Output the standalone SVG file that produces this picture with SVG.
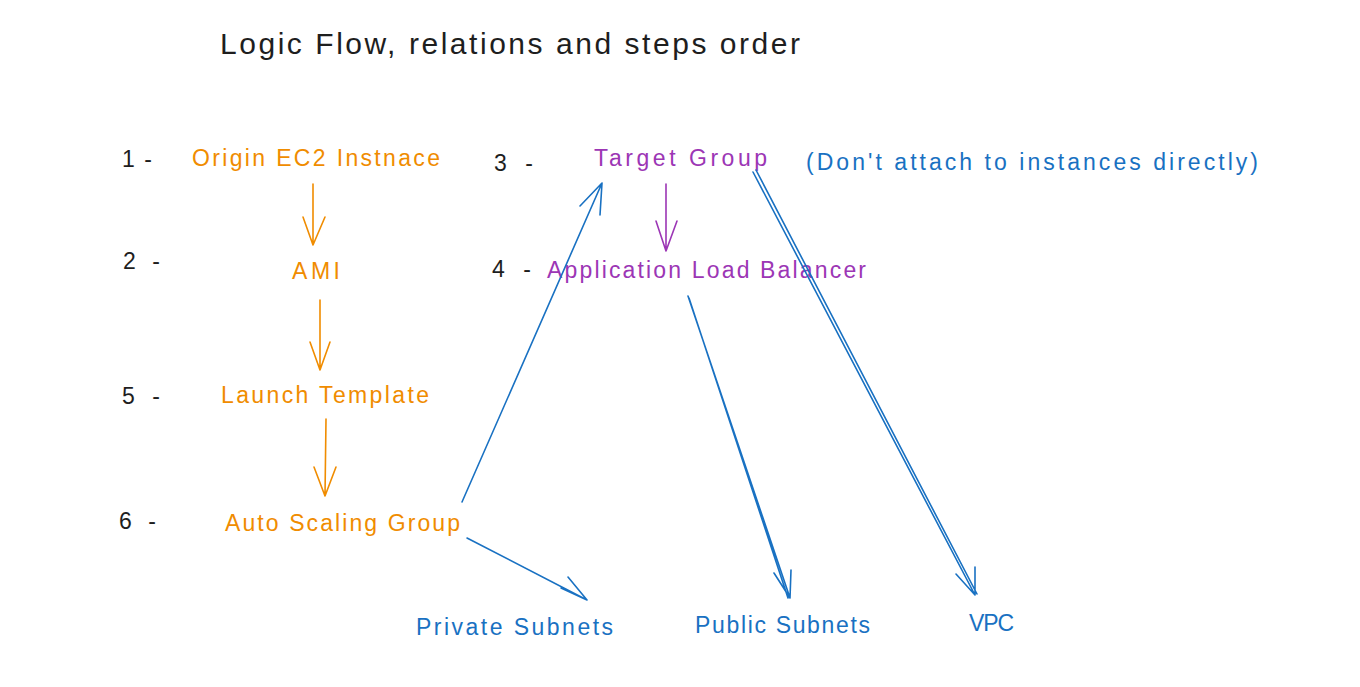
<svg xmlns="http://www.w3.org/2000/svg" width="1360" height="687" viewBox="0 0 1360 687">
<style>
text{font-family:"Liberation Sans",Arial,sans-serif;font-size:23px}
.k{fill:#1e1e1e}.o{fill:#f08c00}.p{fill:#9c36b5}.b{fill:#1971c2}
.t{font-size:30px}
.ao{stroke:#f08c00}.ap{stroke:#9c36b5}.ab{stroke:#1971c2}
line,path{fill:none;stroke-width:1.6;stroke-linecap:round;stroke-linejoin:round}
</style>
<rect width="1360" height="687" fill="#ffffff"/>
<text class="k t" x="220" y="54" textLength="580">Logic Flow, relations and steps order</text>
<g id="step1"><text class="k" x="122" y="167" textLength="30">1 -</text><text class="o" x="192" y="166" textLength="248">Origin EC2 Instnace</text></g>
<g id="step2"><text class="k" x="123" y="269" textLength="37">2 -</text><text class="o" x="292" y="279" textLength="48">AMI</text></g>
<g id="step5"><text class="k" x="122" y="404" textLength="38">5 -</text><text class="o" x="221" y="403" textLength="208">Launch Template</text></g>
<g id="step6"><text class="k" x="119" y="529" textLength="37">6 -</text><text class="o" x="225" y="531" textLength="235">Auto Scaling Group</text></g>
<g id="step3"><text class="k" x="494" y="171" textLength="39">3 -</text><text class="p" x="594" y="166" textLength="173">Target Group</text></g>
<g id="note"><text class="b" x="806" y="170" textLength="452">(Don't attach to instances directly)</text></g>
<g id="step4"><text class="k" x="492" y="277" textLength="39">4 -</text><text class="p" x="547" y="278" textLength="319">Application Load Balancer</text></g>
<g id="private"><text class="b" x="416" y="635" textLength="197">Private Subnets</text></g>
<g id="public"><text class="b" x="695" y="633" textLength="175">Public Subnets</text></g>
<g id="vpc"><text class="b" x="969" y="631" textLength="45">VPC</text></g>
<g id="connectors">
<path class="ao" d="M313 184 L313 245 M303 217 L313 245 L325 217"/>
<path class="ao" d="M320 300 L320 370 M310 342 L320 370 L330 342"/>
<path class="ao" d="M326 419 L325 496 M314 467 L325 496 L336 467"/>
<path class="ap" d="M666 184 L666 251 M656 221 L666 251 L677 221"/>
<path class="ab" d="M462 502 L602 183 M580 206 L602 183 L600 215"/>
<path class="ab" d="M467 538 L587 600 M561 588 L587 600 L568 577"/>
<path class="ab" d="M688 296 L790 598 M689 298 L788 598 M774 573 L790 598 L791 570"/>
<path class="ab" d="M753 172 L975 595 M756 170 L977 594 M956 574 L975 595 L975 567"/>
</g>
</svg>
